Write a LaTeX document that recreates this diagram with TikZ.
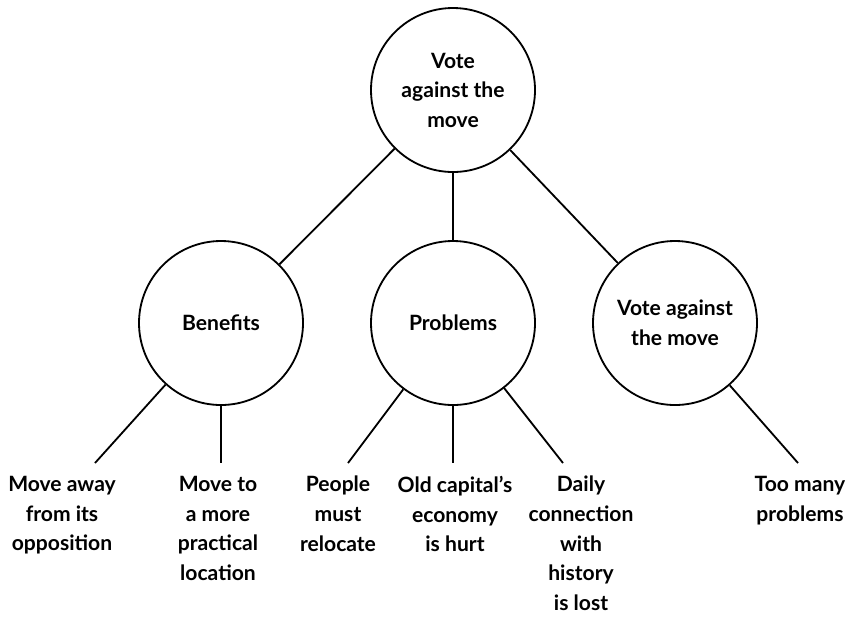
\documentclass[tikz,border=0pt]{standalone}
\usepackage{fontspec}
\setmainfont{Lato}
\usetikzlibrary{positioning}

\begin{document}
\begin{tikzpicture}[
  circ/.style={draw,circle,line width=1.3pt,minimum size=4.1cm,inner sep=0pt,align=center,
    font=\bfseries\fontsize{15}{21}\selectfont},
  leaf/.style={align=center,anchor=north,inner sep=0pt,font=\bfseries\fontsize{15}{21}\selectfont},
  link/.style={line width=1.3pt}]
\useasboundingbox (0,0) rectangle (21.2,-15.4);
\node[circ] (vote) at (11.325,-2.25) {Vote\\ against the\\ move};
\node[circ] (ben) at (5.525,-8.075) {Benefits};
\node[circ] (prob) at (11.325,-8.075) {Problems};
\node[circ] (against) at (16.875,-8.075) {Vote against\\ the move};
\draw[link] (vote)--(ben); \draw[link] (vote)--(prob); \draw[link] (vote)--(against);
\coordinate (b1) at (2.375,-11.575); \coordinate (b2) at (5.525,-11.575);
\coordinate (p1) at (8.7,-11.575); \coordinate (p2) at (11.325,-11.575); \coordinate (p3) at (14.075,-11.575);
\coordinate (a1) at (19.95,-11.575);
\draw[link] (ben)--(b1); \draw[link] (ben)--(b2);
\draw[link] (prob)--(p1); \draw[link] (prob)--(p2); \draw[link] (prob)--(p3);
\draw[link] (against)--(a1);
\node[leaf] (away) at (1.55,-11.9) {Move away\\ from its\\ opposition};
\node[leaf] (practical) at (5.45,-11.9) {Move to\\ a more\\ practical\\ location};
\node[leaf] (relocate) at (8.45,-11.9) {People\\ must\\ relocate};
\node[leaf] (economy) at (11.375,-11.9) {Old capital's\\ economy\\ is hurt};
\node[leaf] (history) at (14.525,-11.9) {Daily\\ connection\\ with\\ history\\ is lost};
\node[leaf] (many) at (20.0,-11.9) {Too many\\ problems};
\end{tikzpicture}
\end{document}
